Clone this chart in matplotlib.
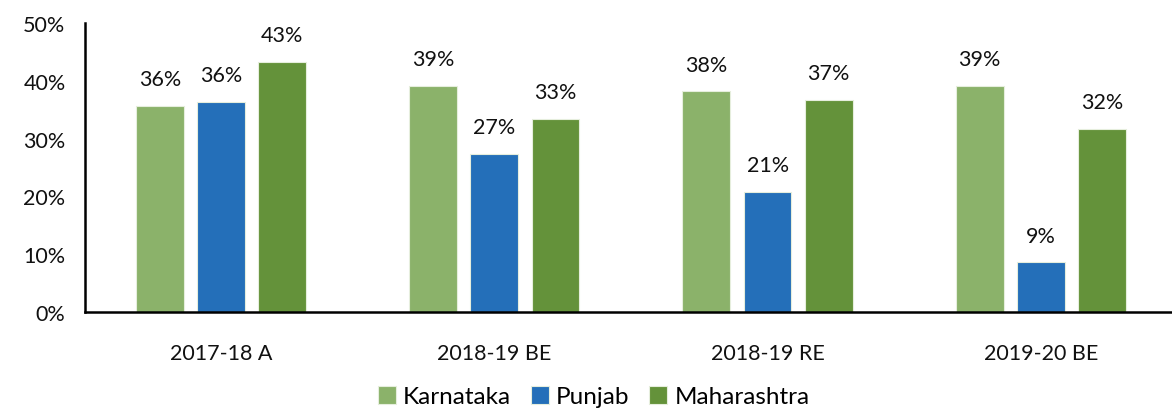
import matplotlib.pyplot as plt
import numpy as np
from matplotlib.ticker import FuncFormatter

plt.rcParams['font.family'] = ['Lato', 'DejaVu Sans']

years = ['2017-18 A', '2018-19 BE', '2018-19 RE', '2019-20 BE']
states = ['Karnataka', 'Punjab', 'Maharashtra']
karnataka = [35.7, 39.2, 38.2, 39.1]
punjab = [36.4, 27.4, 20.8, 8.6]
maharashtra = [43.3, 33.4, 36.7, 31.7]
colors = ['#8bb26a', '#246fb9', '#64923a']

fig = plt.figure(figsize=(11.72, 4.1), dpi=100)
ax = fig.add_axes([0.0725, 0.2366, 0.9275, 0.7044])

x = np.arange(len(years))
width = 0.175
step = 0.224
for i, (name, vals) in enumerate(zip(states, [karnataka, punjab, maharashtra])):
    pos = x + (i - 1) * step
    ax.bar(pos, vals, width=width, color=colors[i], edgecolor='#e6eedd', linewidth=0.8, label=name)
    for xp, v in zip(pos, vals):
        ax.annotate(f'{v:.0f}%', xy=(xp, v), xytext=(0, 12), textcoords='offset points',
                    ha='center', va='bottom', fontsize=15.5, color='#111111')

ax.set_xlim(-0.498, 3.48)
ax.set_ylim(0, 50)
ax.set_yticks(range(0, 51, 10))
ax.yaxis.set_major_formatter(FuncFormatter(lambda v, p: f'{v:.0f}%'))
ax.set_xticks(x)
ax.set_xticklabels(years)
ax.tick_params(axis='both', length=0, labelsize=15.5, colors='#111111')
ax.tick_params(axis='x', pad=22)
ax.tick_params(axis='y', pad=14)
for s in ['top', 'right']:
    ax.spines[s].set_visible(False)
ax.spines['left'].set_linewidth(1.8)
ax.spines['bottom'].set_linewidth(1.8)

ax.legend(loc='lower center', bbox_to_anchor=(0.468, -0.405), ncol=3, frameon=False,
          fontsize=17.5, handlelength=0.75, handleheight=0.75, handletextpad=0.3, columnspacing=0.8)

fig.savefig('out.png', dpi=100)
